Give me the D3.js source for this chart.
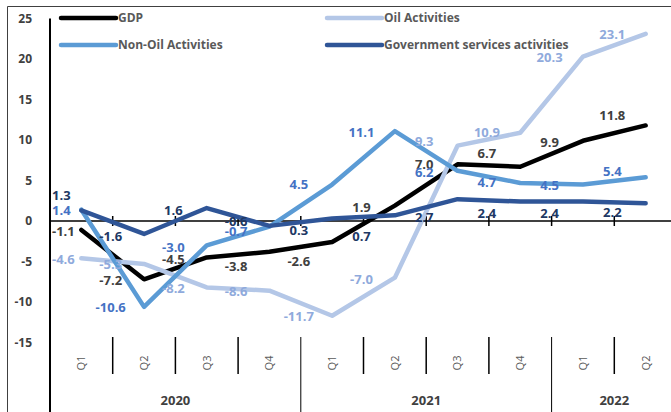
<!DOCTYPE html>
<html>
<head>
<meta charset="utf-8">
<script src="https://cdn.jsdelivr.net/npm/d3@7"></script>
<style>
    html, body { margin: 0; padding: 0; background: #fff; }
    svg { display: block; font-family: "Open Sans", "Noto Sans", sans-serif; }
</style>
</head>
<body>
<div id="root"></div>
<script>
// quarterly growth, %
var quarters = ["Q1", "Q2", "Q3", "Q4", "Q1", "Q2", "Q3", "Q4", "Q1", "Q2"];
var years = ["2020", "2020", "2020", "2020", "2021", "2021", "2021", "2021", "2022", "2022"];
var yTicks = [-15, -10, -5, 0, 5, 10, 15, 20, 25];

var gdp = [-1.1, -7.2, -4.5, -3.8, -2.6, 1.9, 7.0, 6.7, 9.9, 11.8];
var oil = [-4.6, -5.3, -8.2, -8.6, -11.7, -7.0, 9.3, 10.9, 20.3, 23.1];
var nonOil = [1.4, -10.6, -3.0, -0.7, 4.5, 11.1, 6.2, 4.7, 4.5, 5.4];
var gov = [1.3, -1.6, 1.6, -0.6, 0.3, 0.7, 2.7, 2.4, 2.4, 2.2];

// label nudges (px) so the labels sit where they were placed by hand
var gdpDy = [2, 1, 1.5, 15, 19, 1.5, 0, -13, 2, -10];
var oilDy = [1, 1, 1, 1, 1, 2, -4, 0, 1, 1];
var nonOilDy = [1, 1, 2, 5, 0, 1, 2, 0, 1, -6];
var govDy = [-15, 2, 2, -4, 12, 21, 18, 12, 12, 9];

var series = [
    { name: "GDP", values: gdp, dy: gdpDy, line: "#000000", label: "#404040" },
    { name: "Oil Activities", values: oil, dy: oilDy, line: "#b4c7e7", label: "#8faadc" },
    { name: "Non-Oil Activities", values: nonOil, dy: nonOilDy, line: "#5b9bd5", label: "#4472c4" },
    { name: "Government services activities", values: gov, dy: govDy, line: "#2f5597", label: "#203864" }
];

var width = 671, height = 412;
var left = 50, bandW = 62.7;

var svg = d3.select("#root").append("svg")
    .attr("width", width)
    .attr("height", height);

var idx = d3.range(quarters.length);
var x = d3.scaleBand()
    .domain(idx)
    .range([left, left + bandW * quarters.length]);
var y = d3.scaleLinear()
    .domain([-15, 25])
    .range([342.5, 18.5]);

// frame
svg.append("path")
    .attr("d", "M7.5,412V6.5H671")
    .attr("fill", "none")
    .attr("stroke", "#404040")
    .attr("stroke-width", 1);

// y axis
svg.append("line")
    .attr("x1", left).attr("x2", left)
    .attr("y1", y(25)).attr("y2", height)
    .attr("stroke", "#000").attr("stroke-width", 2);

svg.append("g").selectAll("text")
    .data(yTicks)
    .enter().append("text")
    .attr("x", 32)
    .attr("y", function (d) { return y(d); })
    .attr("dy", "0.35em")
    .attr("text-anchor", "end")
    .attr("font-size", 12)
    .attr("font-weight", 700)
    .attr("fill", "#404040")
    .text(function (d) { return d; });

// zero line with crossing ticks
svg.append("line")
    .attr("x1", left).attr("x2", width)
    .attr("y1", y(0)).attr("y2", y(0))
    .attr("stroke", "#000").attr("stroke-width", 1.5);
svg.append("g").selectAll("line")
    .data(idx.slice(1))
    .enter().append("line")
    .attr("x1", function (d) { return x(d); })
    .attr("x2", function (d) { return x(d); })
    .attr("y1", y(0) - 5).attr("y2", y(0) + 5)
    .attr("stroke", "#000").attr("stroke-width", 1.5);

// category axis at the bottom: quarters then years
var qTop = 337, qBottom = 374;
var yearStart = idx.filter(function (i) { return i > 0 && years[i] !== years[i - 1]; });
svg.append("g").selectAll("line")
    .data(idx.slice(1).filter(function (i) { return yearStart.indexOf(i) < 0; }))
    .enter().append("line")
    .attr("x1", function (d) { return x(d); })
    .attr("x2", function (d) { return x(d); })
    .attr("y1", qTop).attr("y2", qBottom)
    .attr("stroke", "#000").attr("stroke-width", 1.5);
svg.append("g").selectAll("line")
    .data(yearStart)
    .enter().append("line")
    .attr("x1", function (d) { return x(d); })
    .attr("x2", function (d) { return x(d); })
    .attr("y1", qTop).attr("y2", height)
    .attr("stroke", "#000").attr("stroke-width", 1);

svg.append("g").selectAll("text")
    .data(idx)
    .enter().append("text")
    .attr("transform", function (d) {
        return "translate(" + (x(d) + x.bandwidth() / 2) + "," + 363 + ")rotate(-90)";
    })
    .attr("dy", "0.35em")
    .attr("text-anchor", "middle")
    .attr("font-size", 11)
    .attr("fill", "#595959")
    .text(function (d) { return quarters[d]; });

var yearGroups = d3.groups(idx, function (i) { return years[i]; });
svg.append("g").selectAll("text")
    .data(yearGroups)
    .enter().append("text")
    .attr("x", function (g) {
        var a = x(g[1][0]), b = x(g[1][g[1].length - 1]) + x.bandwidth();
        return (a + b) / 2;
    })
    .attr("y", 400)
    .attr("dy", "0.35em")
    .attr("text-anchor", "middle")
    .attr("font-size", 13)
    .attr("font-weight", 700)
    .attr("fill", "#404040")
    .text(function (g) { return g[0]; });

// lines
var line = d3.line()
    .x(function (d, i) { return x(i) + x.bandwidth() / 2; })
    .y(function (d) { return y(d); });

svg.append("g").selectAll("path")
    .data(series)
    .enter().append("path")
    .attr("d", function (s) { return line(s.values); })
    .attr("fill", "none")
    .attr("stroke", function (s) { return s.line; })
    .attr("stroke-width", 4.5)
    .attr("stroke-linejoin", "round")
    .attr("stroke-linecap", "round");

// data labels (sit over the left category boundary)
series.forEach(function (s) {
    svg.append("g").selectAll("text")
        .data(s.values)
        .enter().append("text")
        .attr("y", function (d, i) { return y(d) + s.dy[i]; })
        .attr("dy", "0.35em")
        .attr("text-anchor", "middle")
        .attr("font-size", 13)
        .attr("font-weight", 700)
        .attr("fill", s.label)
        .text(function (d) { return d.toFixed(1); })
        .attr("x", function (d, i) {
            var w = this.getComputedTextLength();
            return Math.max(x(i) - 2, left + 2 + w / 2);
        });
});

// legend
var legendPos = [[61, 18], [327, 18], [61, 45], [327, 45]];
var leg = svg.append("g").selectAll("g")
    .data(series)
    .enter().append("g")
    .attr("transform", function (s, i) { return "translate(" + legendPos[i][0] + "," + legendPos[i][1] + ")"; });
leg.append("line")
    .attr("x1", 0).attr("x2", 55)
    .attr("stroke", function (s) { return s.line; })
    .attr("stroke-width", 4.5)
    .attr("stroke-linecap", "round");
leg.append("text")
    .attr("x", 57)
    .attr("dy", "0.35em")
    .attr("font-size", 12)
    .attr("font-weight", 700)
    .attr("fill", "#595959")
    .text(function (s) { return s.name; });
</script>
</body>
</html>
